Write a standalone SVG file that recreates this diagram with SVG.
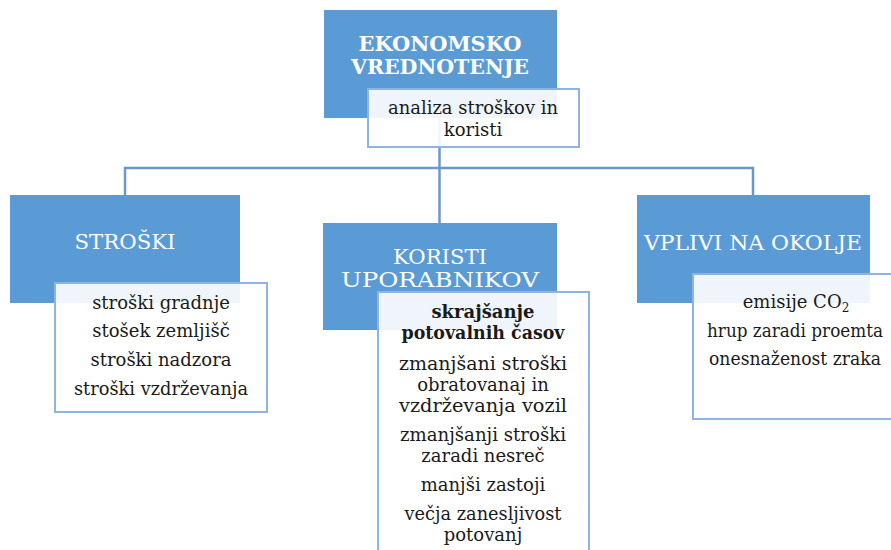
<svg xmlns="http://www.w3.org/2000/svg" width="891" height="550" viewBox="0 0 891 550">
<style>
.blue{fill:#5b9bd5;}
.card{fill:#ffffff;fill-opacity:0.9;stroke:#8db4e2;stroke-width:2;}
.conn{fill:none;stroke:#6b97c9;stroke-width:2.5;}
text{font-family:"DejaVu Serif","Liberation Serif",serif;}
.h{font-size:21px;fill:#ffffff;text-anchor:middle;}
.hb{font-weight:bold;font-size:20px;}
.t{font-size:18px;fill:#1a1a1a;text-anchor:middle;}
.tb{font-weight:bold;}
</style>
<rect width="891" height="550" fill="#ffffff"/>
<g id="connectors">
<path class="conn" d="M125,195 V168 H753 V195"/>
<path class="conn" d="M439.5,118 V223"/>
</g>
<g id="ekonomsko">
<rect class="blue" x="324" y="10" width="233" height="108"/>
<text class="h hb" x="440" y="51" textLength="163" lengthAdjust="spacingAndGlyphs">EKONOMSKO</text>
<text class="h hb" x="440" y="74" textLength="178" lengthAdjust="spacingAndGlyphs">VREDNOTENJE</text>
<rect class="card" x="368" y="89" width="211" height="58"/>
<text class="t" x="473" y="114" textLength="170" lengthAdjust="spacingAndGlyphs">analiza  stroškov in</text>
<text class="t" x="473" y="136">koristi</text>
</g>
<g id="stroski">
<rect class="blue" x="10" y="195" width="230" height="108"/>
<text class="h" x="125" y="249" textLength="101" lengthAdjust="spacingAndGlyphs">STROŠKI</text>
<rect class="card" x="55" y="283" width="212" height="129"/>
<text class="t" x="161" y="309">stroški gradnje</text>
<text class="t" x="161" y="337">stošek zemljišč</text>
<text class="t" x="161" y="366">stroški nadzora</text>
<text class="t" x="161" y="395" textLength="174" lengthAdjust="spacingAndGlyphs">stroški vzdrževanja</text>
</g>
<g id="koristi">
<rect class="blue" x="323" y="223" width="234" height="107"/>
<text class="h" x="440" y="264" textLength="94" lengthAdjust="spacingAndGlyphs">KORISTI</text>
<text class="h" x="440" y="287" textLength="198" lengthAdjust="spacingAndGlyphs">UPORABNIKOV</text>
<rect class="card" x="378" y="292" width="211" height="270"/>
<text class="t tb" x="483" y="318">skrajšanje</text>
<text class="t tb" x="483" y="339" textLength="163" lengthAdjust="spacingAndGlyphs">potovalnih časov</text>
<text class="t" x="483" y="370" textLength="168" lengthAdjust="spacingAndGlyphs">zmanjšani stroški</text>
<text class="t" x="483" y="391">obratovanaj in</text>
<text class="t" x="483" y="412" textLength="168" lengthAdjust="spacingAndGlyphs">vzdrževanja vozil</text>
<text class="t" x="483" y="441" textLength="166" lengthAdjust="spacingAndGlyphs">zmanjšanji stroški</text>
<text class="t" x="483" y="462">zaradi nesreč</text>
<text class="t" x="483" y="491">manjši zastoji</text>
<text class="t" x="483" y="520" textLength="157" lengthAdjust="spacingAndGlyphs">večja zanesljivost</text>
<text class="t" x="483" y="541">potovanj</text>
</g>
<g id="vplivi">
<rect class="blue" x="637" y="195" width="233" height="108"/>
<text class="h" x="753" y="250" textLength="218" lengthAdjust="spacingAndGlyphs">VPLIVI NA OKOLJE</text>
<rect class="card" x="693" y="274" width="210" height="145"/>
<text class="t" x="796" y="308">emisije CO<tspan font-size="12" dy="4">2</tspan></text>
<text class="t" x="795" y="337" textLength="176" lengthAdjust="spacingAndGlyphs">hrup zaradi proemta</text>
<text class="t" x="795" y="365" textLength="172" lengthAdjust="spacingAndGlyphs">onesnaženost zraka</text>
</g>
</svg>
